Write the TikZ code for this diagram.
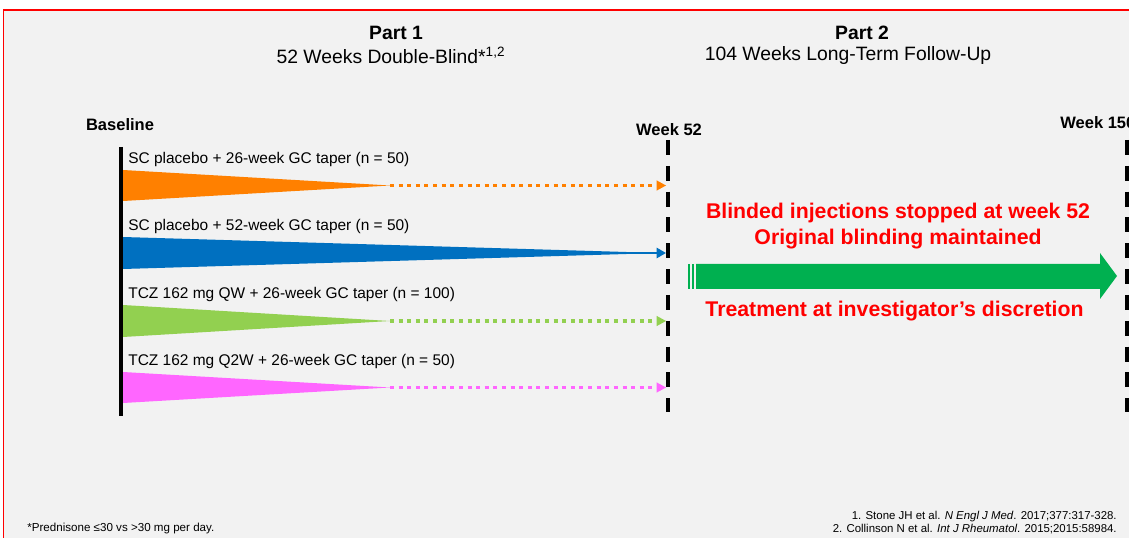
\documentclass[tikz,border=0pt]{standalone}
\usepackage{fontspec}
\setmainfont{Liberation Sans}
\usepackage{xcolor}
\usetikzlibrary{arrows.meta}
\definecolor{slidebg}{HTML}{F2F2F2}
\definecolor{armorange}{HTML}{FF8000}
\definecolor{armblue}{HTML}{0070C0}
\definecolor{armgreen}{HTML}{92D050}
\definecolor{armpink}{HTML}{FF66FF}
\definecolor{ltfgreen}{HTML}{00B050}
\newcommand\sz[1]{\fontsize{#1}{#1}\selectfont}

\begin{document}
\begin{tikzpicture}[x=0.2mm, y=-0.2mm,
    hd/.style={font=\sz{11}, inner sep=0pt},
    armlbl/.style={font=\sz{8.8}, anchor=west, inner sep=0pt},
    wklbl/.style={font=\sz{9.4}\bfseries, inner sep=0pt},
    redtxt/.style={font=\sz{12}\bfseries, text=red, inner sep=0pt, align=center},
    dotarr/.style={line width=2.2pt, dash pattern=on 2.3pt off 2.6pt,
      -{Triangle[length=5.3pt, width=5.8pt, line width=0pt]}},
    wkline/.style={line width=2.2pt, dash pattern=on 8.5pt off 6.2pt}]
    \useasboundingbox (0, 0) rectangle (1129, 538);
    \fill[slidebg] (4, 11) rectangle (1129, 538);
    \draw[red, line width=0.9pt] (3.5, 538) -- (3.5, 10) -- (1129, 10);

    \coordinate (Basetop) at (121, 147);
    \coordinate (Basebot) at (121, 416);
    \coordinate (Wktop) at (668, 140);
    \coordinate (Wkbot) at (668, 412);
    \coordinate (Endtop) at (1127, 140);
    \coordinate (Endbot) at (1127, 412);

    \coordinate (Atop) at (123, 170);
    \coordinate (Abot) at (123, 201);
    \coordinate (Atip) at (390, 185.5);
    \coordinate (Aend) at (666, 185.5);
    \coordinate (Btop) at (123, 237);
    \coordinate (Bbot) at (123, 269);
    \coordinate (Btip) at (660, 253);
    \coordinate (Bmid) at (630, 253);
    \coordinate (Bend) at (666, 253);
    \coordinate (Ctop) at (123, 305);
    \coordinate (Cbot) at (123, 337);
    \coordinate (Ctip) at (390, 321);
    \coordinate (Cend) at (666, 321);
    \coordinate (Dtop) at (123, 372);
    \coordinate (Dbot) at (123, 403);
    \coordinate (Dtip) at (390, 387.5);
    \coordinate (Dend) at (666, 387.5);

    \coordinate (Gs) at (696, 264);
    \coordinate (Gsb) at (696, 289);
    \coordinate (Gh) at (1100, 264);
    \coordinate (Ghb) at (1100, 289);
    \coordinate (Ghu) at (1100, 253);
    \coordinate (Ghl) at (1100, 299);
    \coordinate (Gtip) at (1117, 276);

    \node[hd, font=\sz{11}\bfseries] (partone) at (396, 33) {Part 1};
    \node[hd] (partonesub) at (391, 55.5) {52 Weeks Double-Blind*\textsuperscript{1,2}};
    \node[hd, font=\sz{11}\bfseries] (parttwo) at (862, 33) {Part 2};
    \node[hd] (parttwosub) at (848, 55.5) {104 Weeks Long-Term Follow-Up};

    \node[wklbl] (base) at (120, 125) {Baseline};
    \node[wklbl] (wkA) at (669, 129.5) {Week 52};
    \node[wklbl, anchor=west] (wkB) at (1060, 123) {Week 150};

    \node[armlbl] (armA) at (128, 160) {SC placebo + 26-week GC taper (n = 50)};
    \node[armlbl] (armB) at (128, 227) {SC placebo + 52-week GC taper (n = 50)};
    \node[armlbl] (armC) at (128, 295) {TCZ 162 mg QW + 26-week GC taper (n = 100)};
    \node[armlbl] (armD) at (128, 362) {TCZ 162 mg Q2W + 26-week GC taper (n = 50)};

    \node[redtxt, font=\fontsize{12.1}{14.7}\selectfont\bfseries] (blind) at (898, 226)
      {Blinded injections stopped at week 52\\Original blinding maintained};
    \node[redtxt, font=\sz{12.1}\bfseries] (treat) at (894.5, 311.5) {Treatment at investigator’s discretion};

    \node[inner sep=0pt, anchor=west, font=\sz{6.6}] (fnote) at (27, 528)
      {*Prednisone ≤30 vs >30 mg per day.};
    \node[inner sep=0pt, anchor=east, align=right, font=\fontsize{6.5}{7.4}\selectfont] (refs) at (1117, 522.5)
      {1. Stone JH et al. \textit{N Engl J Med}. 2017;377:317-328.\\
       2. Collinson N et al. \textit{Int J Rheumatol}. 2015;2015:58984.};

    \draw[line width=1.9pt] (Basetop) -- (Basebot);
    \draw[wkline] (Wktop) -- (Wkbot);
    \draw[wkline] (Endtop) -- (Endbot);

    \fill[armorange] (Atop) -- (Abot) -- (Atip) -- cycle;
    \draw[armorange, dotarr] (Atip) -- (Aend);
    \fill[armblue] (Btop) -- (Bbot) -- (Btip) -- cycle;
    \draw[armblue, line width=1.2pt, -{Triangle[length=5.3pt, width=5.8pt]}] (Bmid) -- (Bend);
    \fill[armgreen] (Ctop) -- (Cbot) -- (Ctip) -- cycle;
    \draw[armgreen, dotarr] (Ctip) -- (Cend);
    \fill[armpink] (Dtop) -- (Dbot) -- (Dtip) -- cycle;
    \draw[armpink, dotarr] (Dtip) -- (Dend);

    \fill[ltfgreen] (Gs) -- (Gh) -- (Ghu) -- (Gtip) -- (Ghl) -- (Ghb) -- (Gsb) -- cycle;
    \fill[ltfgreen] (688, 264) rectangle (690, 289);
    \fill[ltfgreen] (692, 264) rectangle (693.7, 289);
  \end{tikzpicture}
\end{document}
